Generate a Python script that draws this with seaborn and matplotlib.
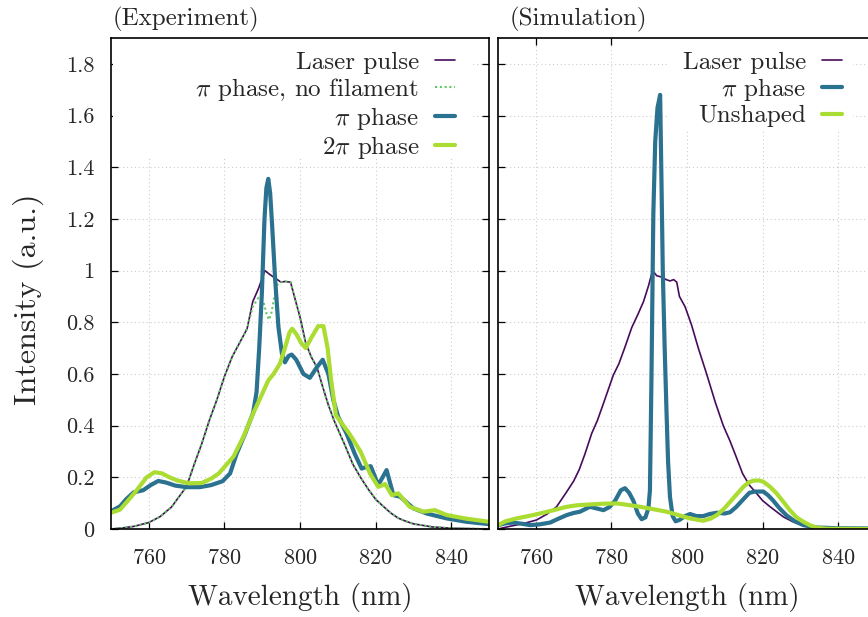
import matplotlib
matplotlib.use("Agg")
import matplotlib.pyplot as plt
from matplotlib.ticker import StrMethodFormatter
import seaborn as sns

# === Data: experiment ===
exp_laser_wl = [750, 753, 756, 760, 763, 766, 768, 770, 772, 774, 776, 778, 780, 782, 784, 786,
                787.5, 789, 790.7, 792, 793.5, 795, 796, 797.5, 798.5, 800, 801.5, 803, 804.5, 806,
                807.5, 809, 810.5, 812, 814, 816, 818, 820, 822, 824, 826, 828, 830, 835, 840, 850]
exp_laser = [0.0, 0.004, 0.010, 0.025, 0.048, 0.085, 0.125, 0.165, 0.25, 0.33, 0.42, 0.50, 0.59,
             0.665, 0.72, 0.775, 0.88, 0.93, 1.0, 0.985, 0.97, 0.955, 0.958, 0.955, 0.90, 0.82,
             0.72, 0.665, 0.625, 0.55, 0.48, 0.42, 0.37, 0.32, 0.25, 0.20, 0.155, 0.115, 0.088,
             0.062, 0.042, 0.03, 0.02, 0.008, 0.003, 0.0]

exp_nofil_wl = [750, 753, 756, 760, 763, 766, 768, 770, 772, 774, 776, 778, 780, 782, 784, 786,
                787.5, 789, 790.3, 791.2, 791.8, 792.5, 793.2, 794, 795, 796, 797.5, 798.5, 800,
                801.5, 803, 804.5, 806, 807.5, 809, 810.5, 812, 814, 816, 818, 820, 822, 824, 826,
                828, 830, 835, 840, 850]
exp_nofil = [0.0, 0.004, 0.010, 0.025, 0.048, 0.085, 0.125, 0.165, 0.25, 0.33, 0.42, 0.50, 0.59,
             0.665, 0.72, 0.775, 0.86, 0.895, 0.88, 0.83, 0.81, 0.84, 0.90, 0.945, 0.955, 0.958,
             0.955, 0.90, 0.82, 0.72, 0.665, 0.625, 0.55, 0.48, 0.42, 0.37, 0.32, 0.25, 0.20,
             0.155, 0.115, 0.088, 0.062, 0.042, 0.03, 0.02, 0.008, 0.003, 0.0]

exp_pi_wl = [750, 752.4, 754, 756, 758.5, 760.5, 762.5, 764.5, 767, 770, 773.5, 776.5, 779.5,
             781.5, 783.2, 785.5, 787.6, 788.5, 789.2, 789.9, 790.6, 791.1, 791.6, 792.1, 792.6,
             793.4, 794.3, 795.2, 796, 797, 797.8, 799, 800.9, 802.6, 804.4, 806, 807.5, 808.8,
             810.1, 812.3, 814.5, 816.3, 817.5, 818.7, 820.7, 822.9, 824.7, 826.5, 830, 833.5,
             838.8, 844, 850]
exp_pi = [0.068, 0.088, 0.115, 0.142, 0.15, 0.17, 0.186, 0.18, 0.168, 0.162, 0.162, 0.17, 0.185,
          0.215, 0.29, 0.37, 0.45, 0.53, 0.70, 0.91, 1.2, 1.32, 1.355, 1.30, 1.18, 0.97, 0.78,
          0.68, 0.645, 0.67, 0.675, 0.655, 0.60, 0.585, 0.625, 0.655, 0.60, 0.50, 0.434, 0.37,
          0.29, 0.234, 0.24, 0.243, 0.17, 0.228, 0.131, 0.125, 0.08, 0.06, 0.041, 0.028, 0.019]

exp_2pi_wl = [750, 752.4, 754.6, 756.8, 759.4, 761.5, 763.5, 765.5, 767.5, 770.5, 774, 776.5,
              778.5, 780, 782.4, 785, 787.6, 789.9, 791.6, 793, 794.7, 796, 797.2, 797.9, 799,
              800.3, 801.5, 803, 804.8, 806.2, 807.3, 808.2, 809.5, 811, 813, 816, 818.5, 820.7,
              822.5, 824.3, 826, 829, 832.6, 835.7, 838.8, 844, 850]
exp_2pi = [0.063, 0.075, 0.112, 0.15, 0.20, 0.22, 0.215, 0.20, 0.188, 0.177, 0.178, 0.195, 0.215,
           0.24, 0.28, 0.356, 0.447, 0.52, 0.575, 0.60, 0.64, 0.70, 0.76, 0.775, 0.755, 0.72,
           0.70, 0.74, 0.785, 0.785, 0.70, 0.58, 0.44, 0.41, 0.37, 0.30, 0.215, 0.163, 0.174,
           0.131, 0.138, 0.086, 0.067, 0.073, 0.054, 0.04, 0.028]

# === Data: simulation ===
sim_laser_wl = [750, 753, 757, 760.2, 763, 765.5, 768, 770, 771.5, 773, 774.8, 776.3, 778, 780.5,
                782, 783.5, 785.4, 787, 788.5, 789.8, 790.9, 792, 793.3, 794.5, 795.5, 796.5,
                797.3, 798, 799.5, 801.2, 803, 805.2, 807.5, 809.6, 811.4, 813, 814.7, 816.5,
                818.4, 820, 822, 825.5, 828, 830.8, 836, 842, 850]
sim_laser = [0.0, 0.01, 0.022, 0.035, 0.058, 0.086, 0.14, 0.185, 0.23, 0.29, 0.37, 0.42, 0.49,
             0.595, 0.64, 0.70, 0.78, 0.83, 0.88, 0.94, 1.0, 0.98, 0.975, 0.965, 0.96, 0.965,
             0.955, 0.90, 0.86, 0.79, 0.70, 0.60, 0.49, 0.40, 0.34, 0.28, 0.215, 0.17, 0.138,
             0.11, 0.086, 0.047, 0.028, 0.015, 0.004, 0.001, 0.0]

sim_pi_wl = [750, 752, 754, 756.5, 758.5, 761, 763.8, 766, 768.2, 770, 771.7, 774.3, 776, 777.9,
             779.5, 781, 782.5, 783.6, 784.7, 785.8, 787, 788, 789, 789.8, 790.2, 790.6, 791.1,
             791.6, 792.2, 792.9, 793.3, 793.6, 794.1, 794.6, 795, 795.5, 796.2, 797, 798, 799.5,
             800.8, 802.5, 804.3, 806, 807.9, 810, 811.4, 813, 814.9, 816.5, 818, 820.2, 821.5,
             822.8, 824.5, 826.4, 828.5, 830.8, 834, 840, 850]
sim_pi = [0.015, 0.022, 0.025, 0.02, 0.015, 0.018, 0.025, 0.04, 0.054, 0.062, 0.067, 0.086, 0.08,
          0.073, 0.085, 0.11, 0.15, 0.158, 0.14, 0.11, 0.06, 0.038, 0.045, 0.08, 0.15, 0.58, 1.22,
          1.50, 1.63, 1.68, 1.30, 1.0, 0.70, 0.447, 0.26, 0.125, 0.05, 0.03, 0.035, 0.05, 0.058,
          0.05, 0.05, 0.058, 0.063, 0.06, 0.065, 0.085, 0.115, 0.14, 0.145, 0.145, 0.13, 0.11,
          0.08, 0.052, 0.03, 0.015, 0.006, 0.003, 0.002]

sim_unshaped_wl = [750, 752, 754.9, 758, 761.1, 764.5, 768.2, 771, 774.3, 778, 781.4, 784.5,
                   787.6, 791, 794.6, 797.5, 800.8, 804.3, 806.2, 807.9, 809.7, 811.4, 813.2,
                   814.9, 816.3, 817.5, 819, 820.2, 822, 823.7, 825.5, 827.2, 829, 830.8, 832.5,
                   834.3, 837, 850]
sim_unshaped = [0.015, 0.03, 0.041, 0.05, 0.06, 0.072, 0.086, 0.092, 0.095, 0.098, 0.099, 0.093,
                0.086, 0.077, 0.067, 0.055, 0.041, 0.032, 0.04, 0.054, 0.077, 0.105, 0.135, 0.163,
                0.18, 0.187, 0.188, 0.183, 0.163, 0.138, 0.105, 0.073, 0.045, 0.028, 0.015, 0.005,
                0.001, 0.0]

y_ticks = [0, 0.2, 0.4, 0.6, 0.8, 1.0, 1.2, 1.4, 1.6, 1.8]
x_ticks = [760, 780, 800, 820, 840]

# === Style ===
sns.set_style("ticks")
plt.rcParams['font.family'] = ['cmr10']
plt.rcParams['mathtext.fontset'] = 'cm'
plt.rcParams['axes.formatter.use_mathtext'] = True
plt.rcParams['axes.unicode_minus'] = False

C_LASER = "#480b5c"
C_NOFIL = "#5ec962"
C_PI = "#2b7190"
C_2PI = "#aadc32"
THICK = 3.0
THIN = 1.2

fig = plt.figure(figsize=(8.68, 6.17), dpi=100)
ax1 = fig.add_axes([0.1279, 0.1426, 0.4355, 0.7958])
ax2 = fig.add_axes([0.5737, 0.1426, 0.4355, 0.7958])

# === Left: experiment ===
sns.lineplot(x=exp_laser_wl, y=exp_laser, ax=ax1, color=C_LASER, linewidth=THIN, label="Laser pulse")
sns.lineplot(x=exp_nofil_wl, y=exp_nofil, ax=ax1, color=C_NOFIL, linewidth=1.5,
             linestyle=(0, (1, 1.3)), label=r"$\pi$ phase, no filament")
sns.lineplot(x=exp_pi_wl, y=exp_pi, ax=ax1, color=C_PI, linewidth=THICK, label=r"$\pi$ phase")
sns.lineplot(x=exp_2pi_wl, y=exp_2pi, ax=ax1, color=C_2PI, linewidth=THICK, label=r"2$\pi$ phase")

# === Right: simulation ===
sns.lineplot(x=sim_laser_wl, y=sim_laser, ax=ax2, color=C_LASER, linewidth=THIN, label="Laser pulse")
sns.lineplot(x=sim_pi_wl, y=sim_pi, ax=ax2, color=C_PI, linewidth=THICK, label=r"$\pi$ phase")
sns.lineplot(x=sim_unshaped_wl, y=sim_unshaped, ax=ax2, color=C_2PI, linewidth=THICK, label="Unshaped")

# legend backgrounds (opaque key box like gnuplot)
key_boxes = {ax1: (0.005, 0.7556, 0.953, 0.2444), ax2: (0.45, 0.8106, 0.489, 0.1894)}

for ax in (ax1, ax2):
    ax.set_xlim(750, 850)
    ax.set_ylim(0, 1.9)
    ax.set_xticks(x_ticks)
    ax.set_yticks(y_ticks)
    ax.yaxis.set_major_formatter(StrMethodFormatter("{x:g}"))
    ax.set_xlabel("")
    ax.set_ylabel("")
    ax.set_axisbelow(True)
    ax.grid(True, color="#cccccc", linestyle=(0, (1, 2.5)), linewidth=0.8)
    ax.tick_params(direction="in", top=True, right=True, length=5, width=0.9,
                   labelsize=16, pad=12, color="black")
    ax.tick_params(axis="x", pad=14)
    for s in ax.spines.values():
        s.set_linewidth(1.2)
        s.set_color("black")
    x0, y0, w, h = key_boxes[ax]
    ax.add_patch(plt.Rectangle((x0, y0), w, h, transform=ax.transAxes,
                               facecolor="white", edgecolor="none", zorder=1))
    ax.legend(loc="upper right", bbox_to_anchor=(0.911, 0.973), frameon=False,
              markerfirst=False, fontsize=18, borderaxespad=0, borderpad=0,
              handlelength=0.8, handletextpad=0.65, labelspacing=0.08)

ax2.tick_params(labelleft=False)

ax1.text(0.005, 1.037, "(Experiment)", transform=ax1.transAxes, fontsize=18, va="center")
ax2.text(0.03, 1.037, "(Simulation)", transform=ax2.transAxes, fontsize=18, va="center")

fig.text(300 / 868, 1 - 598 / 617, "Wavelength (nm)", fontsize=21, ha="center", va="center")
fig.text(687.5 / 868, 1 - 598 / 617, "Wavelength (nm)", fontsize=21, ha="center", va="center")
fig.text(28 / 868, 1 - 299 / 617, "Intensity (a.u.)", fontsize=23, ha="center", va="center",
         rotation=90)

fig.savefig("out.png", dpi=100)
